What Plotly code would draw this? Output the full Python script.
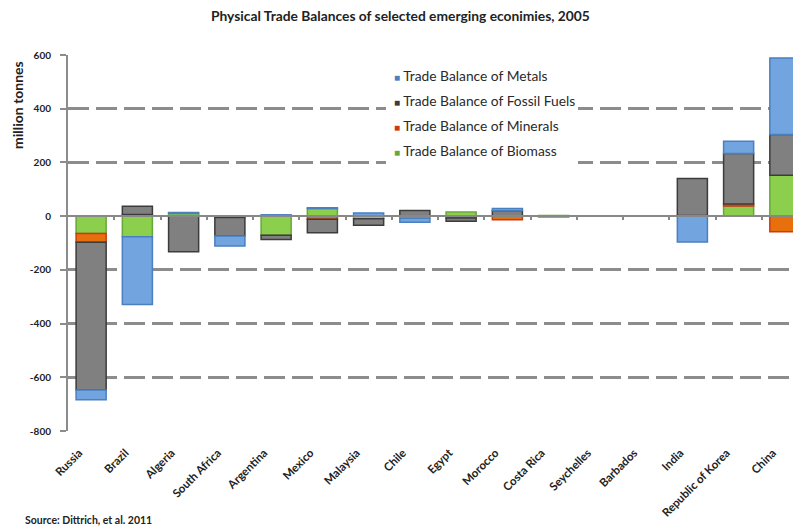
import numpy as np
import plotly.graph_objects as go

countries = ["Russia", "Brazil", "Algeria", "South Africa", "Argentina", "Mexico",
             "Malaysia", "Chile", "Egypt", "Morocco", "Costa Rica", "Seychelles",
             "Barbados", "India", "Republic of Korea", "China"]

biomass  = [-65, -77, 10, -5, -71, 28, -10, -8, 15, 0, 2, 0, 0, 0, 38, 152]
minerals = [-32, 6, 0, 0, 0, -12, 0, 0, -7, -13, 0, 0, 0, 2, 7, -58]
fossil   = [-550, 31, -133, -69, -16, -50, -24, 21, -12, 20, -2, 0, 0, 138, 188, 152]
metals   = [-37, -252, 4, -37, 5, 3, 12, -15, 0, 8, 0, 0, 0, -96, 46, 285]

y_ticks = [-800, -600, -400, -200, 0, 200, 400, 600]
y_ticktext = [str(v) for v in y_ticks]
grid_ticks = [t for t in y_ticks if t != 0]

series = [
    ("Trade Balance of Biomass", biomass, "#8ccf4d", "#68a83a"),
    ("Trade Balance of Minerals", minerals, "#e8700c", "#cc3a14"),
    ("Trade Balance of Fossil Fuels", fossil, "#808080", "#3c3c3c"),
    ("Trade Balance of Metals", metals, "#72a4e0", "#4a7fc0"),
]

FONT = "Lato"
n = len(countries)
xs = list(range(n))

# page geometry (the page body adds an 8px offset)
OFF = 8
W, H = 801, 530
PL, PT, PB = 68 - OFF, 55 - OFF, 431 - OFF
PW, PH = W - PL, PB - PT
XR = [-0.5, -0.5 + PW / 46.25]


def px(sx):
    return (sx - OFF - PL) / PW


def py(sy):
    return (PB - (sy - OFF)) / PH


fig = go.Figure()
for name, vals, fill, edge in series:
    fig.add_trace(go.Bar(
        x=xs, y=[v if v != 0 else None for v in vals], name=name,
        marker=dict(color=fill, line=dict(color=edge, width=1.5)),
        width=0.65, showlegend=False,
    ))
# legend entries, listed top to bottom
for i, (name, vals, fill, edge) in enumerate(reversed(series)):
    fig.add_trace(go.Scatter(
        x=[None], y=[None], mode="markers",
        marker=dict(color="rgba(0,0,0,0)", size=1, line=dict(width=0)),
        name=f'<span style="font-size:10px;color:{edge}">■</span> {name}',
        legendgroup=f"g{i}", showlegend=True, hoverinfo="skip",
    ))
# carriers for the dashed grid axis and the zero-line axis
fig.add_trace(go.Scatter(x=[None], y=[None], yaxis="y2", showlegend=False,
                         hoverinfo="skip"))
fig.add_trace(go.Scatter(x=[None], y=[None], xaxis="x2", showlegend=False,
                         hoverinfo="skip"))

fig.update_layout(
    width=W, height=H,
    margin=dict(l=PL, r=0, t=PT, b=H - PB),
    paper_bgcolor="white", plot_bgcolor="white",
    barmode="relative",
    font=dict(family=FONT, color="#222222"),
    showlegend=True,
    legend=dict(
        x=px(354), y=py(60), xanchor="left", yanchor="top",
        bgcolor="rgba(0,0,0,0)", traceorder="grouped", tracegroupgap=4,
        font=dict(family=FONT, size=13.8, color="#2a2a2a"),
        itemwidth=30,
    ),
    xaxis=dict(
        range=XR, automargin=False,
        tickvals=xs, ticktext=countries,
        tickangle=-45, showgrid=False, zeroline=False, showline=False,
        ticks="", ticklabelstandoff=12, ticklabelshift=-12,
        tickfont=dict(family=FONT, size=11.5, color="#222222", weight="bold"),
    ),
    xaxis2=dict(
        overlaying="x", anchor="free",
        position=(0 - y_ticks[0]) / (y_ticks[-1] - y_ticks[0]),
        range=XR, automargin=False,
        tickvals=list(np.arange(n - 1) + 0.5),
        showticklabels=False, ticks="outside", ticklen=3, tickwidth=1.5,
        tickcolor="#888888", showline=True, linecolor="#888888", linewidth=1.5,
        showgrid=False, zeroline=False,
    ),
    yaxis=dict(
        range=[y_ticks[0], y_ticks[-1]], tickvals=y_ticks, ticktext=y_ticktext,
        automargin=False,
        showgrid=False, zeroline=False, showline=True,
        linecolor="#8c8c8c", linewidth=2, ticks="outside", ticklen=6,
        tickcolor="#8c8c8c", tickwidth=2, ticklabelstandoff=7,
        tickfont=dict(family=FONT, size=10, color="#222222", weight="bold"),
    ),
    yaxis2=dict(
        overlaying="y", range=[y_ticks[0], y_ticks[-1]], tickvals=grid_ticks,
        showgrid=True, gridcolor="#8c8c8c", gridwidth=2.5, griddash="21px,7px",
        showticklabels=False, zeroline=False, showline=False, automargin=False,
    ),
    shapes=[
        dict(type="rect", xref="paper", yref="paper", layer="above",
             x0=px(386), x1=px(578), y0=py(170), y1=py(62),
             fillcolor="white", line=dict(width=0)),
    ],
    annotations=[
        dict(text="<b>Physical Trade Balances of selected emerging econimies, 2005</b>",
             xref="paper", yref="paper", x=px(400), y=py(16),
             xanchor="center", yanchor="middle", showarrow=False,
             font=dict(family=FONT, size=13.8, color="#222222")),
        dict(text="<b>million tonnes</b>", textangle=-90,
             xref="paper", yref="paper", x=px(17), y=py(105),
             xanchor="center", yanchor="middle", showarrow=False,
             font=dict(family=FONT, size=14, color="#222222")),
        dict(text="<b>Source: Dittrich, et al. 2011</b>",
             xref="paper", yref="paper", x=px(23), y=py(520),
             xanchor="left", yanchor="middle", showarrow=False,
             font=dict(family=FONT, size=10.5, color="#222222")),
    ],
)

fig.write_html("out.html")
